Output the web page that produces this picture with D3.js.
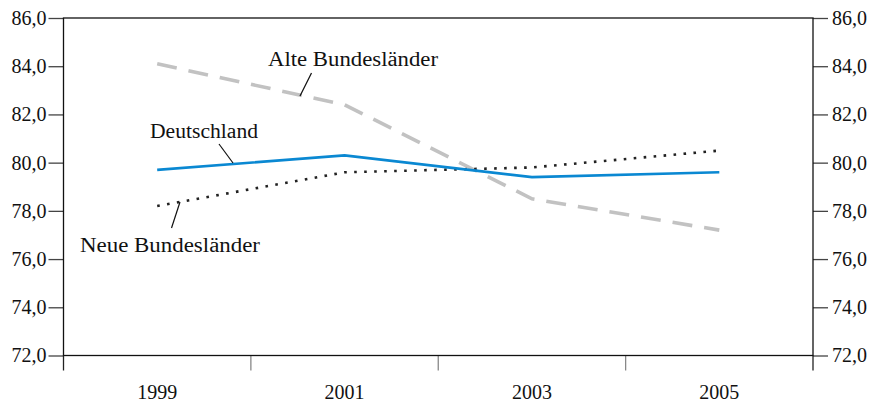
<!DOCTYPE html>
<html>
<head>
<meta charset="utf-8">
<script src="https://cdn.jsdelivr.net/npm/d3@7"></script>
<style>
  body { margin: 0; background: #fff; }
  svg text { font-family: "Liberation Serif", "Times New Roman", serif; fill: #111; }
</style>
</head>
<body>
<div id="chart"></div>
<script>
// years on the x axis
const years = ["1999", "2001", "2003", "2005"];
// values per series
const deutschland = [79.7, 80.3, 79.4, 79.6];
const alteLaender = [84.1, 82.4, 78.5, 77.2];
const neueLaender = [78.2, 79.6, 79.8, 80.5];
// y axis ticks
const yTicks = [72, 74, 76, 78, 80, 82, 84, 86];

const width = 871, height = 402;
const plotLeft = 63.5, plotRight = 813, plotTop = 18, plotBottom = 355.5;

const svg = d3.select("#chart").append("svg")
  .attr("width", width)
  .attr("height", height);

const x = d3.scaleBand().domain(years).range([plotLeft, plotRight]).padding(0);
const y = d3.scaleLinear().domain([72, 86]).range([plotBottom, plotTop]);
const fmt = d => d.toFixed(1).replace(".", ",");

// left axis
const yl = svg.append("g")
  .attr("transform", "translate(" + plotLeft + ",0)")
  .call(d3.axisLeft(y).tickValues(yTicks).tickFormat(fmt).tickSize(15).tickPadding(2));
// right axis
const yr = svg.append("g")
  .attr("transform", "translate(" + plotRight + ",0)")
  .call(d3.axisRight(y).tickValues(yTicks).tickFormat(fmt).tickSize(15).tickPadding(4));
[yl, yr].forEach(g => {
  g.select(".domain").remove();
  g.selectAll(".tick line").attr("stroke", "#444").attr("stroke-width", 1.3);
  g.selectAll(".tick text").style("font-size", "20px").attr("fill", "#111");
});

// bottom labels (centred in each band)
const xb = svg.append("g")
  .attr("transform", "translate(0," + plotBottom + ")")
  .call(d3.axisBottom(x).tickSize(0).tickPadding(29));
xb.select(".domain").remove();
xb.selectAll(".tick text").style("font-size", "20px").attr("fill", "#111");

// band boundary ticks below the frame
const edges = years.map(d => x(d)).concat([x.range()[1]]);
svg.append("g").selectAll("line")
  .data(edges).enter()
  .append("line")
  .attr("x1", d => d).attr("x2", d => d)
  .attr("y1", plotBottom).attr("y2", plotBottom + 15)
  .attr("stroke", (d, i) => (i === 0 || i === edges.length - 1) ? "#222" : "#888")
  .attr("stroke-width", 1.3);

// frame
svg.append("rect")
  .attr("x", plotLeft).attr("y", plotTop)
  .attr("width", plotRight - plotLeft).attr("height", plotBottom - plotTop)
  .attr("fill", "none").attr("stroke", "#111").attr("stroke-width", 1.3);

const line = d3.line()
  .x((d, i) => x(years[i]) + x.bandwidth() / 2)
  .y(d => y(d));

svg.append("path").datum(alteLaender)
  .attr("d", line).attr("fill", "none")
  .attr("stroke", "#c2c2c2").attr("stroke-width", 3.6)
  .attr("stroke-dasharray", "20,12");

svg.append("path").datum(neueLaender)
  .attr("d", line).attr("fill", "none")
  .attr("stroke", "#222").attr("stroke-width", 2.6)
  .attr("stroke-dasharray", "2.6,7.4");

svg.append("path").datum(deutschland)
  .attr("d", line).attr("fill", "none")
  .attr("stroke", "#0a88d2").attr("stroke-width", 2.6);

// series labels with leader lines
const labels = [
  { text: "Alte Bundesländer", x: 268, y: 66, len: 170, lx1: 311.5, ly1: 73, lx2: 300, ly2: 96 },
  { text: "Deutschland", x: 150, y: 137.5, len: 108, lx1: 219, ly1: 144, lx2: 233, ly2: 163 },
  { text: "Neue Bundesländer", x: 80, y: 251.5, len: 180, lx1: 180, ly1: 202, lx2: 171.5, ly2: 228 }
];
labels.forEach(l => {
  svg.append("text")
    .attr("x", l.x).attr("y", l.y)
    .attr("textLength", l.len).attr("lengthAdjust", "spacingAndGlyphs")
    .style("font-size", "20px")
    .text(l.text);
  svg.append("line")
    .attr("x1", l.lx1).attr("y1", l.ly1)
    .attr("x2", l.lx2).attr("y2", l.ly2)
    .attr("stroke", "#111").attr("stroke-width", 1.2);
});
</script>
</body>
</html>
